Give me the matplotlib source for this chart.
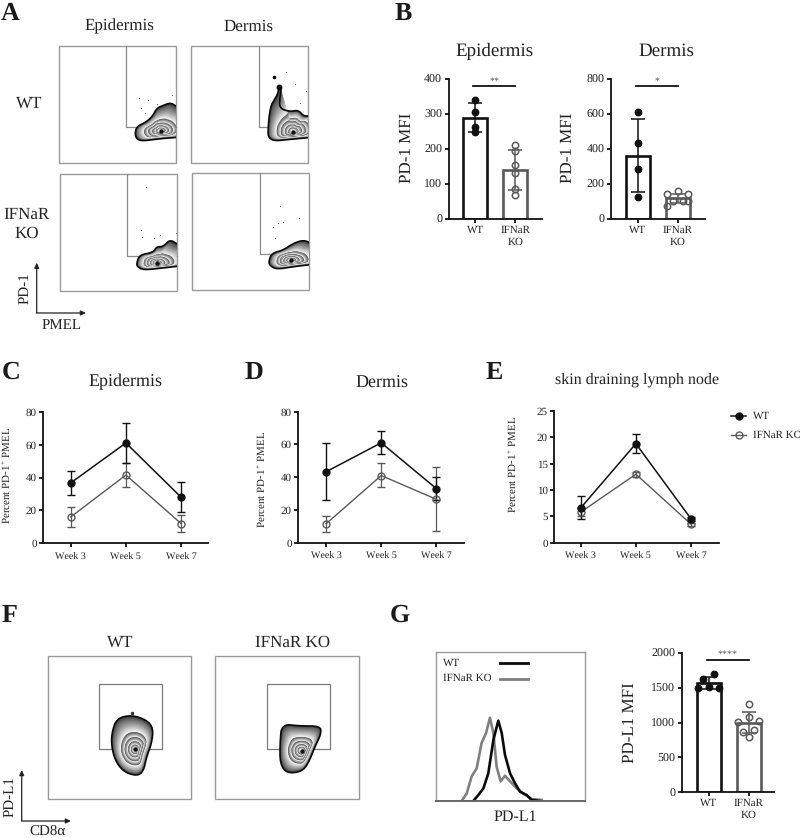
#!/usr/bin/env python
# -*- coding: utf-8 -*-

import numpy as np
import matplotlib

matplotlib.use("Agg")
import matplotlib.pyplot as plt
from matplotlib.patches import Polygon, Rectangle

W, H = 800, 838
BLACK = "#111111"
GRAY = "#595959"
BOX = "#9a9a9a"

plt.rcParams["font.family"] = ["Liberation Serif", "DejaVu Serif"]
plt.rcParams["mathtext.default"] = "regular"
plt.rcParams["text.color"] = "#222222"
plt.rcParams["text.hinting"] = "no_hinting"
plt.rcParams["text.hinting_factor"] = 1

# Panel B
mfi_groups = ["WT", "IFNaR\nKO"]
epi_mfi_mean = [289, 140]
epi_mfi_lo = [248, 84]
epi_mfi_hi = [332, 198]
epi_mfi_wt = [340, 305, 263, 248]
epi_mfi_ko = [210, 195, 155, 130, 85, 68]
derm_mfi_mean = [362, 118]
derm_mfi_lo = [157, 92]
derm_mfi_hi = [570, 145]
derm_mfi_wt = [610, 437, 283, 125]
derm_mfi_ko = [143, 160, 145, 103, 103, 103, 72]
derm_mfi_ko_x = [-0.27, 0, 0.26, -0.13, 0.13, 0.26, -0.27]

# Panels C, D, E
weeks = ["Week 3", "Week 5", "Week 7"]
c_wt, c_wt_lo, c_wt_hi = [36.7, 61, 28], [29.5, 49, 19], [44, 73, 37]
c_ko, c_ko_lo, c_ko_hi = [16, 41.5, 12], [10, 34, 7], [22, 49, 17]
d_wt, d_wt_lo, d_wt_hi = [43.3, 61, 33], [26, 54, 26], [61, 68.5, 40]
d_ko, d_ko_lo, d_ko_hi = [11.5, 41, 26.5], [6.5, 34, 7], [16.5, 48.5, 46.5]
e_wt, e_wt_lo, e_wt_hi = [6.6, 18.8, 4.5], [4.5, 17, 4.2], [8.8, 20.6, 4.8]
e_ko, e_ko_lo, e_ko_hi = [5.8, 13, 3.5], [5, 12.5, 3.2], [6.6, 13.5, 3.8]

# Panel G histogram, both axes in percent of the box
hist_wt_x = [25, 28.4, 31.8, 35.1, 38.5, 41.8, 44.1, 46.3, 49.7, 53, 56.4, 60.9, 64.2, 69.8]
hist_wt_y = [0, 4, 8.5, 18.6, 41, 54, 45.7, 31, 18.6, 12, 6.2, 4, 0.7, 0]
hist_ko_x = [17.2, 20.6, 23.9, 27.3, 30.6, 33.6, 36.2, 38.5, 40.7, 43.4, 46.3, 49.7, 54.1, 58.6, 64.2, 70.9]
hist_ko_y = [0, 5, 16.5, 22, 39, 45.7, 56, 45.7, 23, 13.2, 17, 13.2, 8.7, 5, 1.3, 0.7]

# Panel G bars
pdl1_mean = [1560, 1000]
pdl1_lo = [1480, 850]
pdl1_hi = [1650, 1150]
pdl1_wt = [1695, 1618, 1503, 1490, 1490]
pdl1_wt_x = [0.13, -0.14, 0, -0.26, 0.26]
pdl1_ko = [1260, 1083, 1026, 1012, 869, 893, 797]
pdl1_ko_x = [0, 0, 0.26, -0.27, -0.14, 0.14, 0]

# Flow plots: outlines and density peaks, in 3x pixels of the reference.
# The panel A outlines run past the right box edge and get clipped there.
blob_wt_epi = [(405, 400), (410, 380), (440, 365), (458, 348), (470, 325), (490, 316), (512, 308),
               (530, 320), (560, 330), (560, 410), (480, 416), (430, 423), (410, 418)]
blob_wt_derm = [(803, 400), (810, 322), (825, 296), (834, 280), (838, 255), (844, 265), (840, 290),
                (838, 325), (870, 335), (895, 330), (912, 350), (935, 345), (960, 350), (960, 410),
                (870, 418), (825, 423), (808, 415)]
blob_ko_epi = [(410, 790), (418, 765), (460, 757), (470, 740), (490, 740), (510, 718), (535, 735),
               (565, 740), (565, 795), (480, 805), (430, 810), (412, 800)]
blob_ko_derm = [(806, 785), (815, 760), (850, 750), (880, 730), (910, 720), (935, 730), (965, 735),
                (965, 790), (880, 800), (830, 808), (810, 797)]
blob_f_wt = [(335, 400), (350, 355), (395, 345), (440, 360), (460, 385), (455, 430), (440, 470),
             (430, 515), (410, 528), (370, 515), (345, 480), (335, 440)]
blob_f_ko = [(845, 372), (900, 378), (960, 378), (964, 400), (945, 440), (925, 490), (905, 515),
             (860, 520), (840, 490), (840, 430)]

dots_wt_epi = [(418, 295), (422, 325), (435, 340), (445, 300), (515, 285), (470, 312)]
dots_wt_derm = [(823, 231), (858, 216), (885, 252), (917, 273), (900, 310)]
dots_ko_epi = [(438, 560), (422, 690), (462, 715), (480, 705), (528, 698), (425, 710)]
dots_ko_derm = [(840, 617), (820, 680), (850, 665), (898, 655), (825, 715), (835, 670)]


def ax_px(left, top, right, bottom):
    return fig.add_axes([left / W, 1 - bottom / H, (right - left) / W, (bottom - top) / H])


def style_axes(ax, lw=1.3):
    ax.patch.set_alpha(0)
    for side in ["top", "right"]:
        ax.spines[side].set_visible(False)
    for side in ["left", "bottom"]:
        ax.spines[side].set_linewidth(lw)
        ax.spines[side].set_color(BLACK)
    ax.tick_params(width=lw, length=2.6, color=BLACK, labelcolor="#222222", pad=2)


def bar_panel(rect, top, ticks, mean, lo, hi, wt, ko, wt_x, ko_x, stars, sig_y):
    ax = ax_px(*rect)
    style_axes(ax)
    x0, x1 = rect[0], rect[2]
    first = x0 + 26.8
    ax.set_xlim((x0 - first) / 40, (x1 - first) / 40)
    ax.set_ylim(0, top)
    for i, col in enumerate([BLACK, GRAY]):
        ax.bar(i, mean[i], width=0.6, facecolor="none", edgecolor=col, linewidth=1.9)
        ax.errorbar(i, mean[i], yerr=[[mean[i] - lo[i]], [hi[i] - mean[i]]], color=col,
                    capsize=5, elinewidth=1.1, capthick=1.1, clip_on=False)
    ax.plot(wt_x, wt, "o", color=BLACK, ms=4.6, clip_on=False, zorder=5)
    ax.plot(np.add(ko_x, 1), ko, "o", mfc="none", mec=GRAY, mew=1.1, ms=4.6, clip_on=False, zorder=5)
    ax.plot([-0.05, 1.0], [sig_y, sig_y], color=BLACK, lw=1.3, clip_on=False)
    ax.text(0.48, sig_y + top * 0.002, stars, ha="center", va="bottom", fontsize=7.5, color="#555555")
    ax.set_xticks([0, 1], mfi_groups, fontsize=8.2, linespacing=1.25)
    ax.set_yticks(ticks)
    ax.tick_params(axis="y", labelsize=8.5)
    return ax


def line_panel(rect, top, ticks, xfirst, wt, wt_lo, wt_hi, ko, ko_lo, ko_hi):
    ax = ax_px(*rect)
    style_axes(ax)
    x0, x1 = rect[0], rect[2]
    ax.set_xlim((x0 - xfirst) / 55.2, (x1 - xfirst) / 55.2)
    ax.set_ylim(0, top)
    xs = np.arange(3)
    ax.errorbar(xs, ko, yerr=[np.subtract(ko, ko_lo), np.subtract(ko_hi, ko)], color=GRAY,
                marker="o", ms=5, mfc="none", mec=GRAY, mew=1, lw=1, elinewidth=0.9, capsize=2.9,
                capthick=0.9, clip_on=False)
    ax.errorbar(xs, wt, yerr=[np.subtract(wt, wt_lo), np.subtract(wt_hi, wt)], color=BLACK,
                marker="o", ms=5, lw=1.1, elinewidth=1, capsize=2.9, capthick=1, clip_on=False)
    ax.set_xticks(xs, weeks, fontsize=7.5)
    ax.set_yticks(ticks)
    ax.tick_params(axis="y", labelsize=8)
    ax.tick_params(axis="x", pad=4)
    return ax


def rounded(pts, rounds=2):
    # Chaikin corner cutting, only to soften the hand-read outline
    for _ in range(rounds):
        nxt = np.roll(pts, -1, axis=0)
        pts = np.stack([0.75 * pts + 0.25 * nxt, 0.25 * pts + 0.75 * nxt], axis=1).reshape(-1, 2)
    return pts


def draw_blob(ov, outline, centre, dy=0, clip_box=None, breaks=(1, 0.66, 0.5, 0.34, 0.2, 0.08)):
    pts = rounded(np.array(outline, dtype=float))
    peak = np.array(centre, dtype=float)
    rel = pts - peak
    r = np.hypot(rel[:, 0], rel[:, 1])
    th = np.arctan2(rel[:, 1], rel[:, 0])
    a = (pts[:, 0].max() - pts[:, 0].min()) / 2
    b = (pts[:, 1].max() - pts[:, 1].min()) / 2 * 0.8
    ell = a * b / np.hypot(b * np.cos(th), a * np.sin(th))
    inner_r = np.minimum(ell, r)
    clip = None
    if clip_box is not None:
        x0, y0, x1, y1 = clip_box
        clip = Rectangle((x0, y0), x1 - x0, y1 - y0, transform=ov.transData)
    z = 3.0
    # each band runs dark at its outer edge to white at its inner edge
    for k in range(len(breaks) - 1):
        for s in np.linspace(breaks[k], breaks[k + 1], 14):
            w = min(1.0, (s / breaks[0]) ** 3)
            rad = s * (w * r + (1 - w) * inner_r)
            p = peak + np.column_stack([rad * np.cos(th), rad * np.sin(th)])
            frac = (breaks[k] - s) / (breaks[k] - breaks[k + 1])
            g = 0.25 + 0.75 * frac ** 0.8 if k == 0 else 0.35 + 0.65 * frac
            patch = Polygon(p / 3 + [0, dy], closed=True, facecolor=str(round(g, 3)),
                            edgecolor="none", zorder=z)
            ov.add_patch(patch)
            if clip is not None:
                patch.set_clip_path(clip)
            z += 0.001
    edge = Polygon(pts / 3 + [0, dy], closed=True, fill=False, edgecolor="#0a0a0a",
                   linewidth=1.2, zorder=z)
    ov.add_patch(edge)
    if clip is not None:
        edge.set_clip_path(clip)
    ov.plot(peak[0] / 3, peak[1] / 3 + dy, "o", color="#111111", ms=2.2, zorder=z + 0.01)


def arrows(ov, x, y, xend, yend):
    for tip in [(xend, y), (x, yend)]:
        ov.annotate("", xy=tip, xytext=(x, y),
                    arrowprops=dict(arrowstyle="-|>,head_width=0.14,head_length=0.3", color="#222222",
                                    lw=0.9, shrinkA=0, shrinkB=0))


fig = plt.figure(figsize=(W / 100, H / 100), dpi=100)

# Overlay in reference pixels for the schematic parts and free text
ov = fig.add_axes([0, 0, 1, 1])
ov.set_xlim(0, W)
ov.set_ylim(H, 0)
ov.axis("off")


def label(x, y, s, size=12.6, **kw):
    kw.setdefault("ha", "center")
    kw.setdefault("va", "center")
    ov.text(x, y, s, fontsize=size, **kw)


for s, x, y in [("A", 1, 20), ("B", 395, 20), ("C", 2, 379), ("D", 245, 379), ("E", 486, 379),
                ("F", 2, 622), ("G", 390, 622)]:
    ov.text(x, y, s, fontsize=18.5, fontweight="bold", ha="left", va="baseline", color="#1a1a1a")

# Panel A
boxes_a = [(58.5, 46, 175.5, 163, 126, 126.7), (191, 46, 308, 163, 258.7, 126.7),
           (59.5, 174.5, 176.5, 291.5, 127.3, 255.7), (192, 173.5, 309, 290, 259.7, 254.3)]
for x0, y0, x1, y1, gx, gy in boxes_a:
    ov.add_patch(Rectangle((x0, y0), x1 - x0, y1 - y0, fill=False, ec=BOX, lw=1))
    ov.plot([gx, gx, x1], [y0, gy, gy], color="#8a8a8a", lw=0.9, zorder=2)
draw_blob(ov, blob_wt_epi, (482, 392), clip_box=boxes_a[0][:4])
draw_blob(ov, blob_wt_derm, (880, 395), clip_box=boxes_a[1][:4])
draw_blob(ov, blob_ko_epi, (470, 788), clip_box=boxes_a[2][:4])
draw_blob(ov, blob_ko_derm, (872, 780), clip_box=boxes_a[3][:4])
for dots in [dots_wt_epi, dots_wt_derm, dots_ko_epi, dots_ko_derm]:
    ov.plot(np.array(dots)[:, 0] / 3, np.array(dots)[:, 1] / 3, "s", color="#777777", ms=0.7, mew=0)
ov.plot(838 / 3, 260 / 3, "o", color="#0a0a0a", ms=3.2, zorder=6)
ov.plot(823 / 3, 231 / 3, "o", color="#0a0a0a", ms=1.6, zorder=6)
label(119, 26.7, "Epidermis")
label(249, 26.7, "Dermis")
label(29, 104, "WT")
label(27, 215, "IFNaR")
label(27, 234, "KO")
arrows(ov, 36.7, 313, 86, 262.7)
label(25, 288, "PD-1", size=10.5, rotation=90)
label(61.7, 325, "PMEL", size=10.5)

# Panel B
bar_panel((448.5, 79, 542, 219), 400, [0, 100, 200, 300, 400], epi_mfi_mean, epi_mfi_lo, epi_mfi_hi,
          epi_mfi_wt, epi_mfi_ko, [0] * 4, [0] * 6, "**", 380)
bar_panel((611, 79, 704.5, 219), 800, [0, 200, 400, 600, 800], derm_mfi_mean, derm_mfi_lo, derm_mfi_hi,
          derm_mfi_wt, derm_mfi_ko, [0] * 4, derm_mfi_ko_x, "*", 760)
label(494.3, 51, "Epidermis", size=13.4)
label(666, 51, "Dermis", size=13.4)
label(406.7, 148, "PD-1 MFI", size=12.4, rotation=90)
label(568, 148, "PD-1 MFI", size=12.4, rotation=90)

# Panels C, D, E
ticks80 = [0, 20, 40, 60, 80]
line_panel((43, 411.7, 208, 543.3), 80, ticks80, 70.7, c_wt, c_wt_lo, c_wt_hi, c_ko, c_ko_lo, c_ko_hi)
line_panel((298, 411.7, 464, 542.7), 80, ticks80, 326, d_wt, d_wt_lo, d_wt_hi, d_ko, d_ko_lo, d_ko_hi)
line_panel((554, 411, 718.7, 542.7), 25, [0, 5, 10, 15, 20, 25], 580.7, e_wt, e_wt_lo, e_wt_hi, e_ko, e_ko_lo, e_ko_hi)
label(125.3, 381.7, "Epidermis", size=12.7)
label(382, 383, "Dermis", size=12.7)
label(636.7, 380, "skin draining lymph node", size=11.8)
ylab = "Percent PD-1$^{+}$ PMEL"
label(5.8, 475, ylab, size=7.6, rotation=90)
label(261, 479, ylab, size=7.6, rotation=90)
label(512, 464, ylab, size=7.6, rotation=90)

ov.plot([731, 746], [416, 416], color=BLACK, lw=1.1)
ov.plot([738.5], [416], "o", color=BLACK, ms=5)
ov.plot([731, 746], [435, 435], color=GRAY, lw=1)
ov.plot([738.5], [435], "o", mfc="none", mec=GRAY, mew=1, ms=5)
label(753, 416, "WT", size=7.7, ha="left")
label(753, 435, "IFNaR KO", size=7.7, ha="left")

# Panel F
for bx0, bx1, gx0, gx1 in [(48, 191.3, 99.3, 162), (215.3, 359.3, 267, 329.7)]:
    ov.add_patch(Rectangle((bx0, 655.7), bx1 - bx0, 143.3, fill=False, ec=BOX, lw=1))
    ov.add_patch(Rectangle((gx0, 683.7), gx1 - gx0, 65.3, fill=False, ec="#7a7a7a", lw=0.9, zorder=2))
draw_blob(ov, blob_f_wt, (405, 448), dy=600)
draw_blob(ov, blob_f_ko, (905, 452), dy=600)
ov.plot(395 / 3, 600 + 340 / 3, "o", color="#333333", ms=1.5)
label(120, 643, "WT", size=12)
label(293, 643, "IFNaR KO", size=12)
arrows(ov, 21.7, 821, 71, 770)
label(10.3, 796.7, "PD-L1", size=10.5, rotation=90)
label(47, 832, "CD8α", size=10.5)

# Panel G histogram
hist = ax_px(436, 652.3, 585, 801)
hist.patch.set_alpha(0)
hist.set_xlim(0, 100)
hist.set_ylim(0, 100)
hist.set_xticks([])
hist.set_yticks([])
for side in hist.spines:
    hist.spines[side].set_color(BOX)
    hist.spines[side].set_linewidth(1)
hist.spines["bottom"].set_color("#666666")
hist.spines["bottom"].set_linewidth(1.4)
hist.plot(hist_ko_x, hist_ko_y, color="#808080", lw=1.9, solid_joinstyle="round")
hist.plot(hist_wt_x, hist_wt_y, color="#0a0a0a", lw=1.9, solid_joinstyle="round")
label(443, 662.7, "WT", size=7.7, ha="left")
label(443, 678.7, "IFNaR KO", size=7.7, ha="left")
ov.plot([500, 528], [662.7, 662.7], color="#0a0a0a", lw=2)
ov.plot([500, 528], [678.7, 678.7], color="#808080", lw=2)
label(515.7, 817, "PD-L1", size=11.4)

# Panel G bars
bar_panel((681.7, 652.7, 774, 792.3), 2000, [0, 500, 1000, 1500, 2000], pdl1_mean, pdl1_lo, pdl1_hi,
          pdl1_wt, pdl1_ko, pdl1_wt_x, pdl1_ko_x, "****", 1900)
label(630, 722.7, "PD-L1 MFI", size=12.4, rotation=90)

fig.savefig("out.png", dpi=100)
